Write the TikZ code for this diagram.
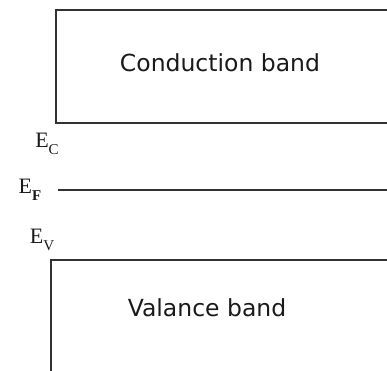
\documentclass[tikz,border=0pt]{standalone}
\usepackage{fontspec}
\setmainfont{Liberation Serif}
\newfontfamily\bandfont{DejaVu Sans}
\usetikzlibrary{positioning}

\definecolor{edgegray}{RGB}{50,50,50}
\definecolor{inkgray}{RGB}{26,26,26}

% energy level label: E with a subscript letter
\newcommand{\enlevel}[1]{E\raisebox{-0.3em}{\fontsize{15}{15}\selectfont #1}}

\begin{document}
\begin{tikzpicture}[
      x=1pt, y=-1pt,
      band/.style={draw=edgegray, line width=2.8pt, inner sep=0pt, outer sep=0pt},
      bandtext/.style={text=inkgray, font=\bandfont\fontsize{23.5}{26}\selectfont},
      levtext/.style={text=inkgray, inner sep=1pt, font=\fontsize{22}{24}\selectfont},
      level/.style={draw=edgegray, line width=2.8pt}
    ]
    \useasboundingbox (0,0) rectangle (387,370);
    \clip (0,0) rectangle (387,370);
    % bands
    \node[band, minimum width=340pt, minimum height=113pt, anchor=north west] (cband) at (56,10) {};
    \node[band, minimum width=345pt, minimum height=130pt, anchor=north west] (vband) at (51,260) {};
    \node[bandtext] (cbtext) at (220,63) {Conduction band};
    \node[bandtext] (vbtext) at (207,308) {Valance band};
    % levels
    \node[levtext] (ec) at (47,144) {\enlevel{C}};
    \node[levtext] (ef) at (30,190) {\enlevel{\textbf{F}}};
    \node[levtext] (ev) at (42,240) {\enlevel{V}};
    \coordinate (efend) at (395,190.5);
    \draw[level, shorten <=15pt] (ef.east) -- (ef.east -| efend);
\end{tikzpicture}
\end{document}
